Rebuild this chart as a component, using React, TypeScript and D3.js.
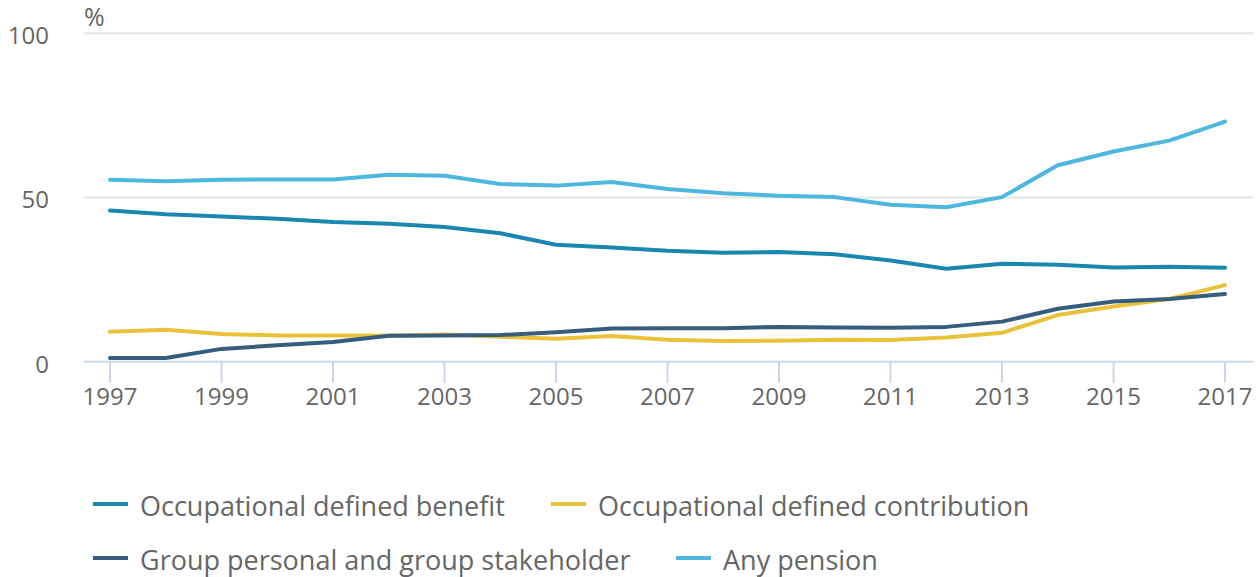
import React from "react";
import * as d3 from "d3";

const years = [1997,1998,1999,2000,2001,2002,2003,2004,2005,2006,2007,2008,2009,2010,2011,2012,2013,2014,2015,2016,2017];
const occupationalDB = [46.0,44.9,44.2,43.5,42.5,42.0,41.0,39.1,35.6,34.8,33.8,33.2,33.4,32.7,30.8,28.3,29.8,29.5,28.7,28.9,28.6];
const occupationalDC = [9.1,9.7,8.4,8.0,8.0,7.9,8.3,7.6,7.0,7.8,6.7,6.3,6.4,6.7,6.6,7.4,8.8,14.2,16.8,19.1,23.3];
const groupPersonal = [1.1,1.1,3.9,5.0,6.0,7.9,8.0,8.1,9.0,10.1,10.2,10.2,10.6,10.4,10.3,10.6,12.2,16.1,18.3,19.1,20.6];
const anyPension = [55.4,54.9,55.4,55.5,55.5,56.9,56.6,54.1,53.6,54.7,52.6,51.3,50.5,50.1,47.8,47.0,50.1,59.8,64.0,67.3,73.1];
const tickYears = [1997,1999,2001,2003,2005,2007,2009,2011,2013,2015,2017];
const yTicks = [0, 50, 100];

const seriesNames = ["Occupational defined benefit","Occupational defined contribution","Group personal and group stakeholder","Any pension"];
const seriesValues = [occupationalDB, occupationalDC, groupPersonal, anyPension];
const seriesColors = ["#1a87b0", "#e8c33a", "#365c7e", "#4db7e0"];
const drawOrder = [3, 0, 1, 2];

const FONT = "'Open Sans', sans-serif";
const TEXT = "#666666";

export default function App() {
  const x = d3.scaleLinear().domain([1997, 2017]).range([110, 1225]);
  const y = d3.scaleLinear().domain([0, 100]).range([361.7, 33.2]);
  const line = d3.line<number>().x((_, i) => x(years[i])).y((d) => y(d));

  const legendPos = [
    { x: 93, y: 504 },
    { x: 551, y: 504 },
    { x: 93, y: 558 },
    { x: 676, y: 558 },
  ];

  return (
    <svg width={1259} height={577} style={{ position: "absolute", left: 0, top: 0, background: "#fff" }} fontFamily={FONT}>
      {yTicks.filter((t) => t > 0).map((t) => (
        <line key={t} x1={84} x2={1253} y1={y(t)} y2={y(t)} stroke="#e6e6e6" strokeWidth={2} />
      ))}
      <line x1={84} x2={1253} y1={y(0)} y2={y(0)} stroke="#ccd6eb" strokeWidth={2} />
      {tickYears.map((t) => (
        <g key={t}>
          <line x1={x(t)} x2={x(t)} y1={y(0)} y2={y(0) + 21} stroke="#ccd6eb" strokeWidth={2} />
          <text x={x(t)} y={405} textAnchor="middle" fontSize={24} fill={TEXT}>{t}</text>
        </g>
      ))}
      {yTicks.map((t) => (
        <text key={t} x={49} y={y(t) + 11} textAnchor="end" fontSize={24} fill={TEXT}>{t}</text>
      ))}
      <text x={84} y={26} fontSize={25} fill={TEXT}>%</text>
      {drawOrder.map((i) => (
        <path key={i} d={line(seriesValues[i]) || ""} fill="none" stroke={seriesColors[i]} strokeWidth={4} strokeLinejoin="round" strokeLinecap="round" />
      ))}
      {seriesNames.map((name, i) => (
        <g key={name}>
          <line x1={legendPos[i].x} x2={legendPos[i].x + 35} y1={legendPos[i].y} y2={legendPos[i].y} stroke={seriesColors[i]} strokeWidth={4} />
          <text x={legendPos[i].x + 47} y={legendPos[i].y + 11.5} fontSize={27} fill={TEXT}>{name}</text>
        </g>
      ))}
    </svg>
  );
}
